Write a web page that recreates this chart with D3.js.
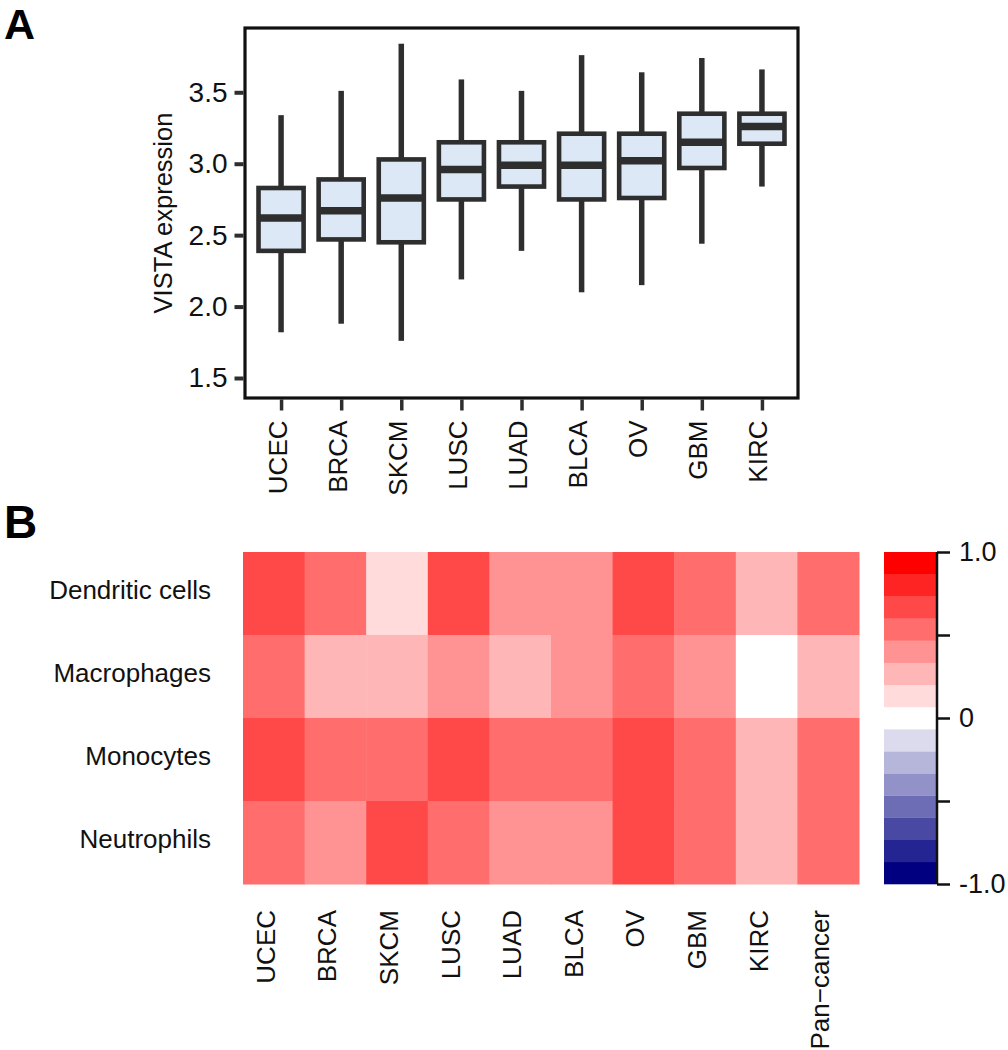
<!DOCTYPE html>
<html>
<head>
<meta charset="utf-8">
<script src="https://cdn.jsdelivr.net/npm/d3@7"></script>
<style>
  html, body { margin: 0; padding: 0; background: #fff; }
  svg { display: block; font-family: "Liberation Sans", Arial, Helvetica, sans-serif; }
</style>
</head>
<body>
<svg id="chart" width="1008" height="1050"></svg>
<script>
// ---- Panel A data: VISTA expression box statistics ----
const boxCategories = ["UCEC", "BRCA", "SKCM", "LUSC", "LUAD", "BLCA", "OV", "GBM", "KIRC"];
const whiskerLow  = [1.82, 1.88, 1.76, 2.19, 2.39, 2.10, 2.15, 2.44, 2.84];
const q1Values    = [2.39, 2.47, 2.45, 2.75, 2.84, 2.75, 2.76, 2.97, 3.14];
const medians     = [2.62, 2.67, 2.76, 2.96, 2.99, 2.99, 3.02, 3.15, 3.26];
const q3Values    = [2.83, 2.89, 3.03, 3.15, 3.15, 3.21, 3.21, 3.35, 3.35];
const whiskerHigh = [3.34, 3.51, 3.84, 3.59, 3.51, 3.76, 3.64, 3.74, 3.66];
const boxYTicks   = [1.5, 2.0, 2.5, 3.0, 3.5];
const boxYLabel   = "VISTA expression";

// ---- Panel B data: correlation heatmap ----
const heatColumns = ["UCEC", "BRCA", "SKCM", "LUSC", "LUAD", "BLCA", "OV", "GBM", "KIRC", "Pan\u2212cancer"];
const heatRows = ["Dendritic cells", "Macrophages", "Monocytes", "Neutrophils"];
const dendriticValues   = [0.67, 0.53, 0.13, 0.67, 0.40, 0.40, 0.67, 0.53, 0.27, 0.53];
const macrophageValues  = [0.53, 0.27, 0.27, 0.40, 0.27, 0.40, 0.53, 0.40, 0.00, 0.27];
const monocyteValues    = [0.67, 0.53, 0.53, 0.67, 0.53, 0.53, 0.67, 0.53, 0.27, 0.53];
const neutrophilValues  = [0.53, 0.40, 0.67, 0.53, 0.40, 0.40, 0.67, 0.53, 0.27, 0.53];
const colorbarTicks = [-1, -0.5, 0, 0.5, 1];
const colorbarLabels = ["-1.0", "", "0", "", "1.0"];

const svg = d3.select("#chart");
const ink = "#2e2e2e";

// ================= Panel A =================
const A = { left: 245, right: 798, top: 28, bottom: 398 };
const x = d3.scalePoint().domain(boxCategories).range([A.left, A.right]).padding(0.6);
const y = d3.scaleLinear().domain([1.36, 3.95]).range([A.bottom, A.top]);
const boxW = x.step() * 0.75;

const boxes = boxCategories.map((c, i) => ({
  cat: c, lo: whiskerLow[i], q1: q1Values[i], med: medians[i], q3: q3Values[i], hi: whiskerHigh[i]
}));

const gBox = svg.append("g");
// whiskers
gBox.selectAll("line.wh-up").data(boxes).join("line")
  .attr("x1", d => x(d.cat)).attr("x2", d => x(d.cat))
  .attr("y1", d => y(d.hi)).attr("y2", d => y(d.q3))
  .attr("stroke", ink).attr("stroke-width", 5.5);
gBox.selectAll("line.wh-lo").data(boxes).join("line")
  .attr("x1", d => x(d.cat)).attr("x2", d => x(d.cat))
  .attr("y1", d => y(d.q1)).attr("y2", d => y(d.lo))
  .attr("stroke", ink).attr("stroke-width", 5.5);
// boxes
gBox.selectAll("rect.box").data(boxes).join("rect")
  .attr("x", d => x(d.cat) - boxW / 2).attr("width", boxW)
  .attr("y", d => y(d.q3)).attr("height", d => y(d.q1) - y(d.q3))
  .attr("fill", "#dce8f5").attr("stroke", ink).attr("stroke-width", 4.6);
// medians
gBox.selectAll("line.med").data(boxes).join("line")
  .attr("x1", d => x(d.cat) - boxW / 2).attr("x2", d => x(d.cat) + boxW / 2)
  .attr("y1", d => y(d.med)).attr("y2", d => y(d.med))
  .attr("stroke", ink).attr("stroke-width", 7.5);

// frame
svg.append("rect")
  .attr("x", A.left).attr("y", A.top)
  .attr("width", A.right - A.left).attr("height", A.bottom - A.top)
  .attr("fill", "none").attr("stroke", "#111").attr("stroke-width", 3.2);

// y axis
const yAxis = svg.append("g").attr("transform", `translate(${A.left - 1.5},0)`)
  .call(d3.axisLeft(y).tickValues(boxYTicks).tickSize(9).tickPadding(7).tickFormat(d3.format(".1f")));
yAxis.select(".domain").remove();
yAxis.selectAll(".tick line").attr("stroke", ink).attr("stroke-width", 4);
yAxis.selectAll(".tick text").attr("font-size", 28).attr("fill", "#111").attr("font-family", null);

// x axis
const xAxis = svg.append("g").attr("transform", `translate(0,${A.bottom + 1.5})`)
  .call(d3.axisBottom(x).tickSize(11));
xAxis.select(".domain").remove();
xAxis.selectAll(".tick line").attr("stroke", ink).attr("stroke-width", 3.5);
xAxis.selectAll(".tick text")
  .attr("x", 0).attr("y", 0).attr("dy", null)
  .attr("transform", "translate(5,21) rotate(-90)")
  .attr("text-anchor", "end")
  .attr("font-size", 26).attr("fill", "#111").attr("font-family", null);

// y label
svg.append("text")
  .attr("transform", `translate(172,${(A.top + A.bottom) / 2}) rotate(-90)`)
  .attr("text-anchor", "middle")
  .attr("font-size", 25.5).attr("fill", "#111")
  .text(boxYLabel);

// panel letter
svg.append("text").attr("x", 4).attr("y", 39)
  .attr("font-size", 43).attr("font-weight", "bold").attr("fill", "#000").text("A");

// ================= Panel B =================
const H = { left: 243, right: 859, top: 552, bottom: 884 };
const hx = d3.scaleBand().domain(heatColumns).range([H.left, H.right]);
const hy = d3.scaleBand().domain(heatRows).range([H.top, H.bottom]);

// 15-step navy-white-red palette
const nBins = 15;
const palette = d3.range(nBins).map(i => {
  const half = (nBins - 1) / 2;
  return i <= half
    ? d3.interpolateRgb("#000080", "#ffffff")(i / half)
    : d3.interpolateRgb("#ffffff", "#ff0000")((i - half) / half);
});
const binEdges = d3.range(1, nBins).map(i => -1 + i * 2 / nBins);
const color = d3.scaleThreshold().domain(binEdges).range(palette);

const rowValues = [dendriticValues, macrophageValues, monocyteValues, neutrophilValues];
const cells = [];
heatRows.forEach((r, ri) => heatColumns.forEach((c, ci) => cells.push({ r, c, v: rowValues[ri][ci] })));

svg.append("g").selectAll("rect").data(cells).join("rect")
  .attr("x", d => hx(d.c)).attr("y", d => hy(d.r))
  .attr("width", hx.bandwidth() + 0.5).attr("height", hy.bandwidth() + 0.5)
  .attr("fill", d => color(d.v));

// row labels
svg.append("g").selectAll("text").data(heatRows).join("text")
  .attr("x", 211).attr("y", d => hy(d) + hy.bandwidth() / 2 + 5)
  .attr("text-anchor", "end").attr("font-size", 26).attr("fill", "#111")
  .text(d => d);

// column labels
svg.append("g").selectAll("text").data(heatColumns).join("text")
  .attr("transform", d => `translate(${hx(d) + hx.bandwidth() / 2 + 1},910) rotate(-90)`)
  .attr("text-anchor", "end").attr("font-size", 26).attr("fill", "#111")
  .text(d => d);

// colour bar
const cb = { left: 884, right: 937 };
const cy = d3.scaleLinear().domain([-1, 1]).range([H.bottom, H.top]);
svg.append("g").selectAll("rect").data(palette).join("rect")
  .attr("x", cb.left).attr("width", cb.right - cb.left)
  .attr("y", (d, i) => cy(-1 + (i + 1) * 2 / nBins))
  .attr("height", cy(-1) - cy(-1 + 2 / nBins) + 0.3)
  .attr("fill", d => d);

const cbAxis = svg.append("g").attr("transform", `translate(${cb.right},0)`)
  .call(d3.axisRight(cy).tickValues(colorbarTicks).tickSize(13).tickPadding(9)
    .tickFormat((d, i) => colorbarLabels[i]));
cbAxis.select(".domain").attr("stroke", "#111").attr("stroke-width", 2.5).attr("d", `M0,${H.bottom}V${H.top}`);
cbAxis.selectAll(".tick line").attr("stroke", "#111").attr("stroke-width", 2.5);
cbAxis.selectAll(".tick text").attr("font-size", 27).attr("fill", "#111").attr("font-family", null);

svg.append("text").attr("x", 4).attr("y", 538)
  .attr("font-size", 46).attr("font-weight", "bold").attr("fill", "#000").text("B");
</script>
</body>
</html>
